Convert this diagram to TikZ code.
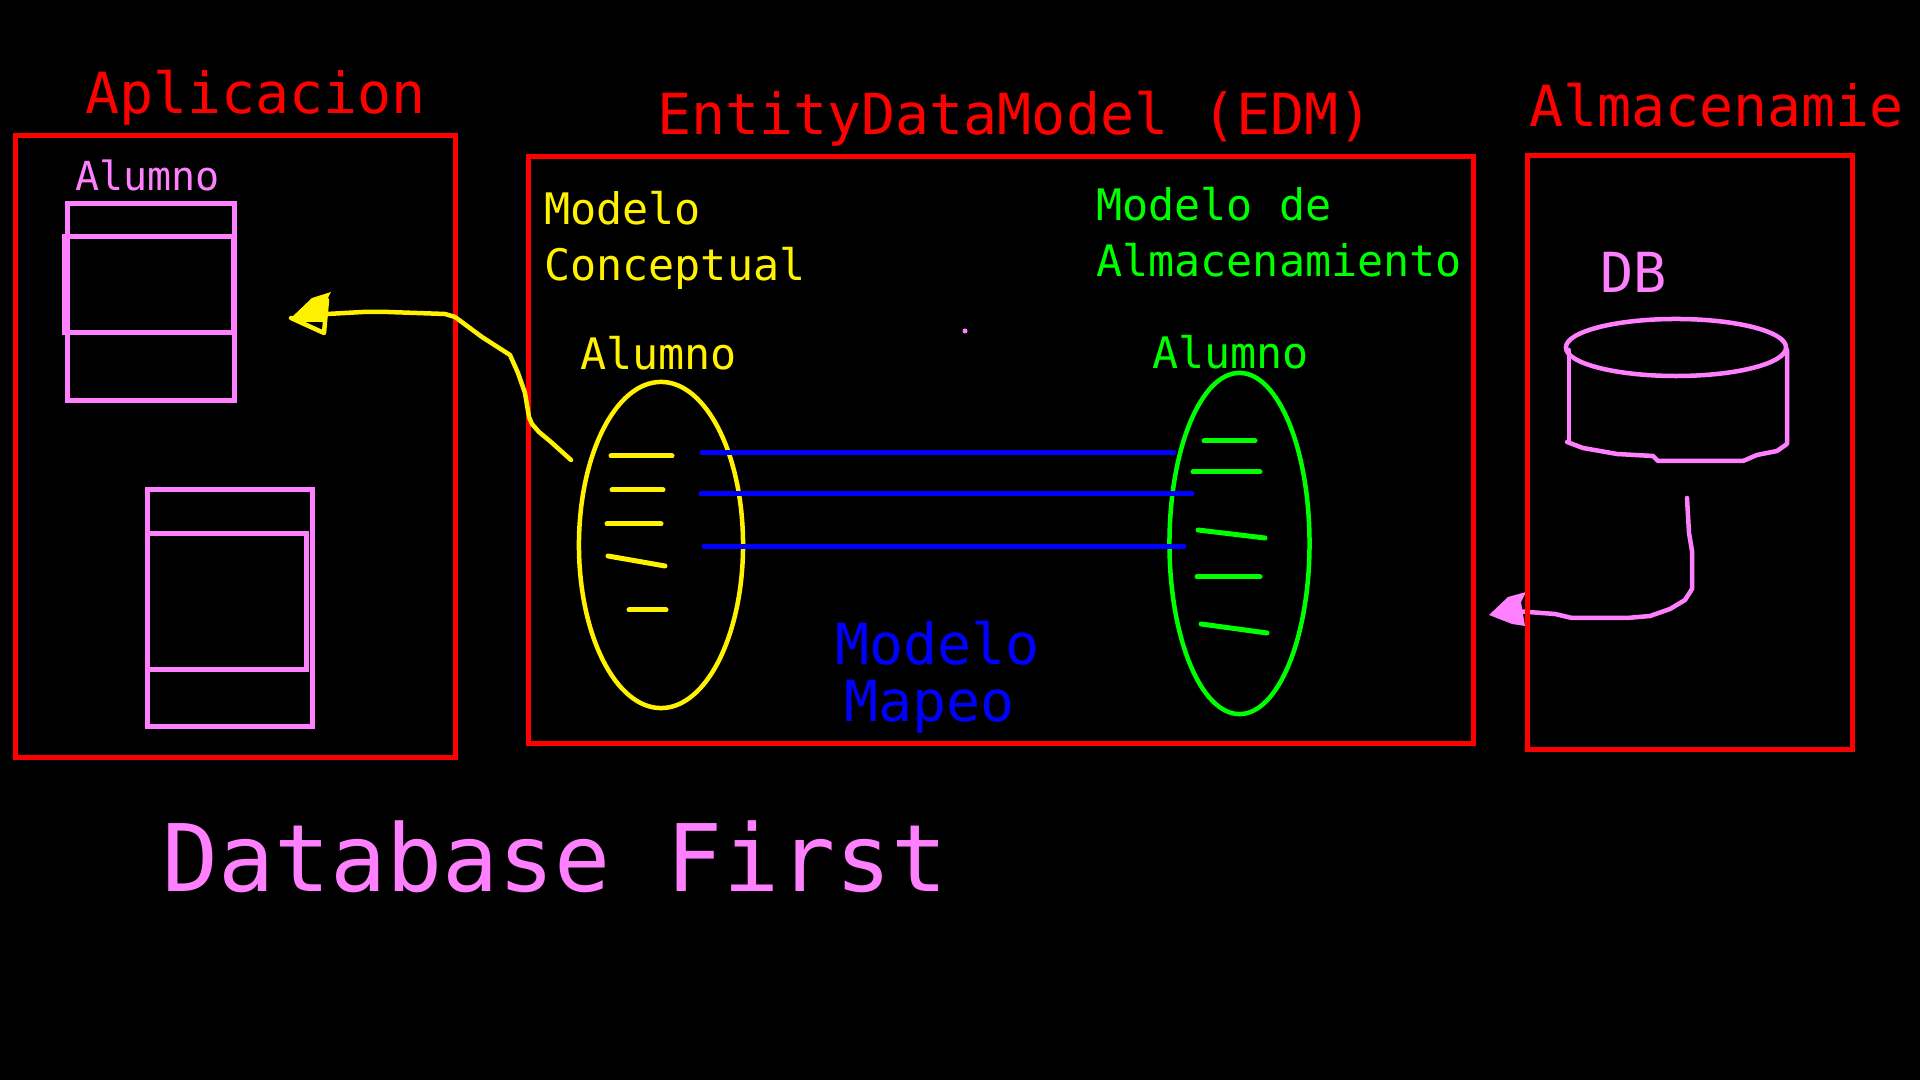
\documentclass[tikz,border=0pt]{standalone}
\usepackage{fontspec}
\setmainfont{DejaVu Sans Mono}
\usepackage{xcolor}
\usetikzlibrary{shapes.geometric, positioning}
\definecolor{pinkdraw}{HTML}{FF80FF}
\begin{document}
\begin{tikzpicture}[x=0.01cm, y=-0.01cm]
\tikzstyle{redbox} = [rectangle, draw=red, line width=0.05cm, inner sep=0, outer sep=0]
\tikzstyle{tablebox} = [rectangle, draw=pinkdraw, line width=0.05cm, inner sep=0, outer sep=0]
\tikzstyle{oval} = [ellipse, line width=0.045cm, inner sep=0, outer sep=0]
\tikzstyle{tick} = [line width=0.05cm, line cap=round]
\tikzstyle{maplink} = [blue, line width=0.05cm, line cap=round]
\tikzstyle{stroke} = [line width=0.045cm, line cap=round, line join=round]
\tikzstyle{label} = [anchor=base west, inner sep=0, outer sep=0]
\tikzstyle{bigfont} = [font=\fontsize{16.1}{17}\selectfont]
\tikzstyle{midfont} = [font=\fontsize{12.35}{13}\selectfont]

\fill [black] (0,0) rectangle (1920,1080);

\node (aplicaciontitle) [label, bigfont, red] at (85,114) {Aplicacion};
\node (edmtitle) [label, bigfont, red] at (657,134.5) {EntityDataModel (EDM)};
\node (almacentitle) [label, bigfont, red] at (1529,127) {Almacenamie};

% pink arrow passes under the red box
\coordinate (dbstart) at (1687,498);
\coordinate (dbtip) at (1489,615);
\draw [stroke, pinkdraw] (dbstart) -- (1689,533) -- (1692,551) -- (1692,589) -- (1685,600) -- (1670,609) -- (1650,616) -- (1627,618) -- (1572,618) -- (1555,614) -- (1515,611);
\fill [pinkdraw] (dbtip) -- (1508,597) -- (1526,592) -- (1521,602) -- (1525,626) -- (1512,624) -- cycle;

\node (aplicacion) [redbox, minimum width=4.39cm, minimum height=6.22cm] at (235.5,446.5) {};
\node (edm) [redbox, minimum width=9.44cm, minimum height=5.86cm] at (1001,450) {};
\node (almacen) [redbox, minimum width=3.24cm, minimum height=5.94cm] at (1690,452.5) {};

\node (alumnopink) [label, pinkdraw, font=\fontsize{11.38}{12}\selectfont] at (75,191) {Alumno};
\node (tableone) [tablebox, minimum width=1.66cm, minimum height=1.97cm] at (151,302) {};
\node (tableonemid) [tablebox, minimum width=1.68cm, minimum height=0.96cm] at (149,284.5) {};
\node (tabletwo) [tablebox, minimum width=1.64cm, minimum height=2.36cm] at (230,608) {};
\node (tabletwomid) [tablebox, minimum width=1.58cm, minimum height=1.35cm] at (227,601.5) {};

\node (modelo) [label, midfont, yellow] at (544,225) {Modelo};
\node (conceptual) [label, midfont, yellow] at (544,281) {Conceptual};
\node (modelode) [label, midfont, green] at (1096,221) {Modelo de};
\node (almacenamiento) [label, midfont, green] at (1096,277) {Almacenamiento};
\node (alumnoyellow) [label, midfont, yellow] at (580,370) {Alumno};
\node (alumnogreen) [label, midfont, green] at (1152,369) {Alumno};
\node (db) [label, pinkdraw, font=\fontsize{15.7}{16}\selectfont] at (1600,293) {DB};
\node (modeloblue) [label, bigfont, blue] at (835,665) {Modelo};
\node (mapeo) [label, bigfont, blue] at (844,722) {Mapeo};
\node (databasefirst) [label, pinkdraw, font=\fontsize{26.5}{27}\selectfont] at (162,892) {Database First};

\node (ovalyellow) [oval, draw=yellow, minimum width=1.64cm, minimum height=3.26cm] at (661,545) {};
\node (ovalgreen) [oval, draw=green, minimum width=1.40cm, minimum height=3.41cm] at (1239.5,543.5) {};

\draw [tick, yellow] (611,456) -- (672,456);
\draw [tick, yellow] (612,490) -- (663,490);
\draw [tick, yellow] (607,524) -- (661,524);
\draw [tick, yellow] (608,556) -- (665,566);
\draw [tick, yellow] (629,610) -- (666,610);
\draw [tick, green] (1204,441) -- (1255,441);
\draw [tick, green] (1193,472) -- (1260,472);
\draw [tick, green] (1198,530) -- (1265,538);
\draw [tick, green] (1197,577) -- (1260,577);
\draw [tick, green] (1201,624) -- (1267,633);

\coordinate (mapaleft) at (702,453);
\coordinate (maparight) at (1174,453);
\coordinate (mapbleft) at (701,494);
\coordinate (mapbright) at (1192,494);
\coordinate (mapcleft) at (704,546.5);
\coordinate (mapcright) at (1184,546.5);
\draw [maplink] (mapaleft) -- (maparight);
\draw [maplink] (mapbleft) -- (mapbright);
\draw [maplink] (mapcleft) -- (mapcright);

\coordinate (conceptstart) at (571,460);
\coordinate (appltip) at (291,318);
\draw [stroke, yellow] (conceptstart) -- (551,442) -- (539,432) -- (532,424) -- (529,417) -- (527,405) -- (525,393) -- (518,373) -- (510,355) -- (482,337) -- (455,317) -- (445,314) -- (388,312) -- (363,312) -- (327,314);
\fill [yellow] (appltip) -- (312,298) -- (331,292) -- (327,300) -- (326,322) -- (305,322) -- cycle;
\draw [stroke, yellow] (appltip) -- (324,333) -- (327,300);

\node (dbtop) [oval, draw=pinkdraw, minimum width=2.20cm, minimum height=0.57cm] at (1676,347.5) {};
\coordinate (dbleft) at (1569,350);
\coordinate (dbright) at (1787,350);
\draw [stroke, pinkdraw] (dbleft) -- (1569,442);
\draw [stroke, pinkdraw] (dbright) -- (1787,444) -- (1777,451) -- (1757,455) -- (1743,461) -- (1658,461) -- (1653,456) -- (1617,454) -- (1583,448) -- (1567,442);

\fill [pinkdraw] (965,331) circle (2.5);
\end{tikzpicture}
\end{document}
